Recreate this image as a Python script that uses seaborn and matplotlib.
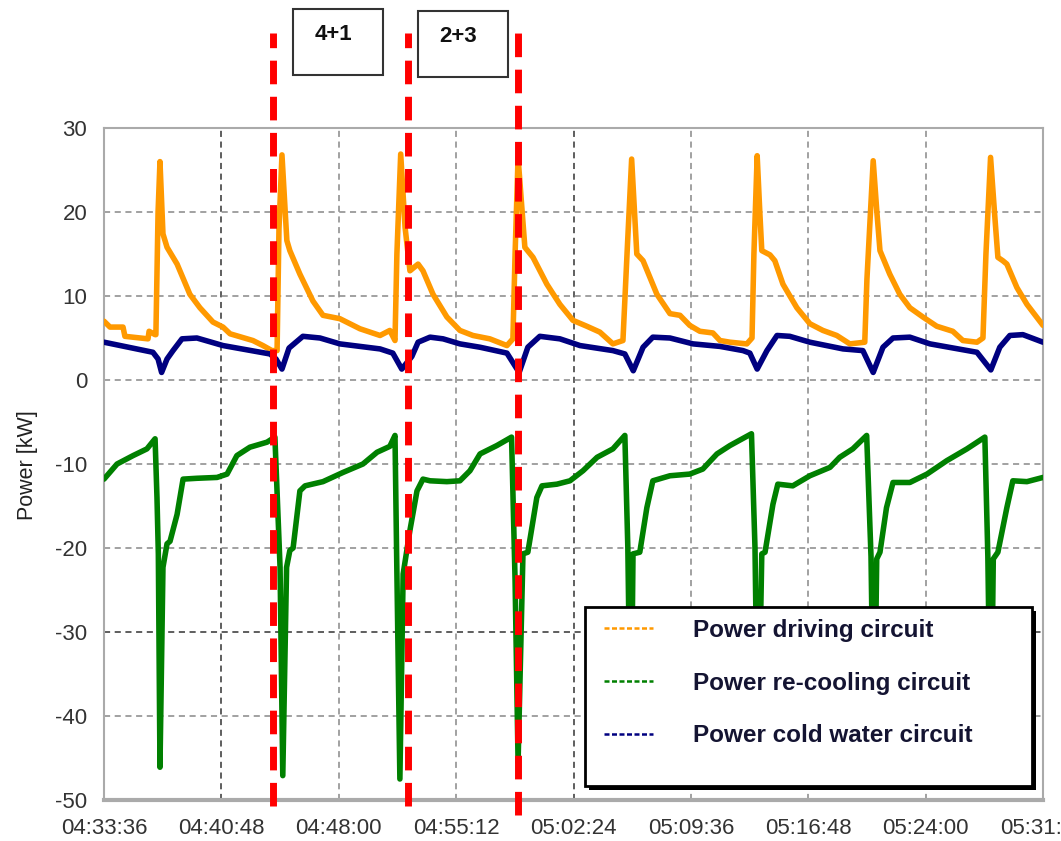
import pandas as pd
import numpy as np
import matplotlib
matplotlib.use("Agg")
from matplotlib import pyplot as plt
from matplotlib.lines import Line2D
from matplotlib.patches import Rectangle
import matplotlib.dates as mdates
import seaborn as sns

# time axis: seconds elapsed since 04:33:36
START = pd.Timestamp("2000-01-01 04:33:36")
SPAN_S = 3456
TICK_STEP_S = 432

# Power driving circuit (orange)
drive_t = [0, 22, 70, 77, 162, 166, 188, 191, 199, 206, 217, 232, 269, 316, 353, 401, 438, 464,
           548, 585, 618, 637, 644, 655, 673, 684, 721, 769, 806, 868, 905, 942, 1016, 1052,
           1071, 1078, 1092, 1108, 1126, 1156, 1174, 1211, 1262, 1310, 1358, 1420, 1483, 1505,
           1513, 1524, 1537, 1549, 1579, 1630, 1678, 1726, 1777, 1825, 1873, 1910, 1925, 1942,
           1961, 1984, 2035, 2083, 2120, 2156, 2193, 2241, 2267, 2304, 2366, 2385, 2392, 2404,
           2414, 2421, 2451, 2469, 2499, 2550, 2598, 2646, 2697, 2745, 2800, 2808, 2831, 2845,
           2856, 2892, 2929, 2966, 3014, 3065, 3124, 3161, 3213, 3235, 3246, 3263, 3279, 3290,
           3308, 3323, 3360, 3397, 3456]
drive_kw = [7.0, 6.3, 6.3, 5.2, 4.9, 5.8, 5.4, 5.4, 20.0, 26.0, 17.4, 15.8, 13.8, 10.2, 8.6, 6.9,
            6.3, 5.5, 4.7, 4.1, 3.5, 3.5, 18.0, 26.8, 16.6, 15.4, 12.6, 9.4, 7.7, 7.3, 6.7, 6.1,
            5.3, 5.9, 4.7, 15.0, 26.9, 18.2, 13.0, 13.8, 13.0, 10.2, 7.5, 5.9, 5.3, 4.9, 4.1,
            4.9, 15.0, 26.5, 20.9, 15.8, 14.6, 11.4, 9.0, 7.1, 6.4, 5.7, 4.3, 4.7, 15.0, 26.3,
            15.0, 14.2, 10.2, 7.9, 7.7, 6.5, 5.8, 5.6, 4.7, 4.5, 4.3, 5.0, 15.0, 26.7,
            19.8, 15.4, 14.9, 14.2, 11.4, 8.6, 6.7, 5.9, 5.3, 4.3, 4.5, 12.0, 26.1, 19.8,
            15.4, 12.6, 10.2, 8.6, 7.5, 6.4, 5.8, 4.7, 4.5, 5.0, 15.0, 26.5, 19.3, 14.6,
            14.2, 13.8, 11.0, 9.0, 6.5]

# Power re-cooling circuit (green)
recool_t = [0, 48, 107, 158, 188, 195, 200, 206, 217, 232, 243, 269, 291, 342, 416, 453, 489, 537,
            600, 629, 648, 658, 672, 684, 696, 721, 740, 806, 880, 953, 1005, 1052, 1071, 1077,
            1089, 1101, 1126, 1152, 1174, 1200, 1262, 1310, 1347, 1384, 1446, 1500, 1513, 1524,
            1542, 1560, 1593, 1612, 1667, 1715, 1763, 1815, 1873, 1917, 1928, 1939, 1947, 1972,
            1998, 2020, 2083, 2156, 2204, 2256, 2304, 2383, 2396, 2407, 2421, 2433, 2462, 2480,
            2535, 2598, 2672, 2708, 2756, 2807, 2823, 2834, 2844, 2856, 2880, 2904, 2966, 3029,
            3102, 3176, 3242, 3253, 3264, 3273, 3290, 3323, 3345, 3397, 3456]
recool_kw = [-11.8, -10.0, -9.0, -8.2, -7.0, -14.0, -20.7, -46.1, -22.3, -19.5, -19.2, -16.0,
             -11.8, -11.7, -11.6, -11.2, -9.0, -8.0, -7.4, -6.8, -22.3, -47.1, -22.3, -20.3,
             -20.0, -13.2, -12.6, -12.1, -11.0, -10.0, -8.6, -7.9, -6.6, -20.7, -47.5, -23.1,
             -17.9, -13.2, -11.8, -12.0, -12.1, -12.0, -10.8, -8.8, -7.8, -6.8, -23.9, -45.5,
             -20.7, -20.5, -14.0, -12.6, -12.4, -12.0, -10.8, -9.2, -8.2, -6.6, -20.0, -46.0,
             -20.7, -20.5, -15.2, -12.0, -11.4, -11.2, -10.6, -8.8, -7.8, -6.4, -20.0, -46.0,
             -20.7, -20.5, -14.8, -12.4, -12.6, -11.4, -10.4, -9.2, -8.2, -6.6, -21.0, -46.0,
             -21.3, -20.5, -15.2, -12.2, -12.2, -11.2, -9.6, -8.2, -6.8, -21.0, -46.0, -21.3,
             -20.5, -15.2, -12.0, -12.1, -11.6]

# Power cold water circuit (navy)
cold_t = [0, 180, 199, 212, 232, 254, 287, 342, 438, 611, 633, 655, 681, 732, 795, 868, 1016,
          1063, 1096, 1133, 1156, 1200, 1248, 1310, 1384, 1483, 1528, 1560, 1604, 1678, 1752,
          1873, 1917, 1948, 1984, 2020, 2083, 2168, 2267, 2352, 2377, 2404, 2440, 2477, 2524,
          2598, 2720, 2793, 2831, 2867, 2904, 2966, 3040, 3213, 3264, 3297, 3334, 3382, 3456]
cold_kw = [4.5, 3.3, 2.5, 0.9, 2.5, 3.5, 4.9, 5.0, 4.1, 3.1, 2.5, 1.3, 3.8, 5.2, 5.0, 4.3, 3.7,
           3.2, 1.3, 2.8, 4.5, 5.1, 4.9, 4.3, 3.9, 3.2, 0.9, 3.9, 5.2, 4.9, 4.1,
           3.5, 3.1, 1.1, 3.9, 5.1, 5.0, 4.3, 4.0, 3.5, 3.2, 1.3, 3.5, 5.3, 5.2,
           4.5, 3.7, 3.5, 0.9, 3.9, 5.0, 5.1, 4.3, 3.3, 1.2, 3.9, 5.3, 5.4, 4.5]

# switching events (red dashed lines) and their labels
event_t = [621, 1119, 1522]
box_labels = ["4+1", "2+3"]

labels = ["Power driving circuit", "Power re-cooling circuit", "Power cold water circuit"]
colors = ["#FF9900", "#008000", "#000080"]
y_ticks = [-50, -40, -30, -20, -10, 0, 10, 20, 30]


def to_time(secs):
    return START + pd.to_timedelta(np.array(secs), unit="s")


sns.set_style("white")
plt.rcParams["font.family"] = ["Liberation Sans", "DejaVu Sans"]
plt.rcParams["axes.unicode_minus"] = False

W, H = 1061, 841
fig = plt.figure(figsize=(W / 100, H / 100), dpi=100)
ax = fig.add_axes([104 / W, 1 - 800 / H, (1043 - 104) / W, (800 - 128) / H])

series = [(drive_t, drive_kw), (recool_t, recool_kw), (cold_t, cold_kw)]
for (t, kw), c in zip(series, colors):
    df = pd.DataFrame({"time": to_time(t), "kW": kw})
    sns.lineplot(data=df, x="time", y="kW", color=c, lw=4, ax=ax, sort=False,
                 estimator=None, zorder=3)

x_ticks = to_time(range(0, SPAN_S + 1, TICK_STEP_S))
ax.set_xlim(x_ticks[0], x_ticks[-1])
ax.set_ylim(-50, 30)
ax.set_xticks(x_ticks)
ax.set_yticks(y_ticks)
ax.xaxis.set_major_formatter(mdates.DateFormatter("%H:%M:%S"))
ax.set_xlabel("")
ax.set_ylabel("")

# dashed grid, a few lines darker as in the original
for i, xt in enumerate(x_ticks[1:-1], start=1):
    dark = i in (1, 4)
    ax.axvline(xt, color="#333333" if dark else "#888888", lw=1.1, ls=(0, (4, 3)), zorder=1)
for yt in y_ticks[1:-1]:
    dark = yt == -30
    ax.axhline(yt, color="#333333" if dark else "#888888", lw=1.1, ls=(0, (4, 3)), zorder=1)

for side in ["left", "right", "top"]:
    ax.spines[side].set_color("#aaaaaa")
    ax.spines[side].set_linewidth(1.5)
ax.spines["bottom"].set_color("#aaaaaa")
ax.spines["bottom"].set_linewidth(3)
ax.tick_params(axis="both", colors="#888888", labelcolor="#333333", labelsize=16,
               length=6, width=1.5, direction="out")
ax.tick_params(axis="x", pad=7)
ax.tick_params(axis="y", pad=6)

fig.text(28 / W, 1 - 465 / H, "Power [kW]", rotation=90, ha="center", va="center",
         fontsize=15.5, color="#222222")

# red event lines reaching above and below the plot area
ev_extent = [(-0.009, 1.141), (-0.009, 1.141), (-0.022, 1.149)]
for et, (y0, y1) in zip(to_time(event_t), ev_extent):
    ax.axvline(et, ymin=y0, ymax=y1, color="#FF0000", lw=5, ls=(0, (3.4, 1.8)),
               clip_on=False, zorder=6)

# labelled boxes above the chart
boxes = [(293, 9, 383, 75), (418, 11, 508, 77)]
for (x0, y0, x1, y1), lab in zip(boxes, box_labels):
    fig.add_artist(Rectangle((x0 / W, 1 - y1 / H), (x1 - x0) / W, (y1 - y0) / H,
                             transform=fig.transFigure, fill=False, ec="#333333", lw=1.5))
    fig.text((x0 + 40) / W, 1 - (y0 + 26) / H, lab, ha="center", va="center",
             fontsize=16, fontweight="bold", color="#111111")

# legend frame with black drop shadow
lx0, lx1, ly0, ly1 = 585, 1032, 607, 786
def ax_xy(px, py):
    return (px - 104) / 939, (800 - py) / 672
sx, sy = ax_xy(lx0 + 4, ly1 + 4)
ax.add_patch(Rectangle((sx, sy), (lx1 - lx0) / 939, (ly1 - ly0) / 672, transform=ax.transAxes,
                       fc="black", ec="black", lw=0, zorder=4))
fx, fy = ax_xy(lx0, ly1)
ax.add_patch(Rectangle((fx, fy), (lx1 - lx0) / 939, (ly1 - ly0) / 672, transform=ax.transAxes,
                       fc="white", ec="black", lw=2, zorder=4.5))

handles = [Line2D([0], [0], color=c, lw=1.8, ls=(0, (2, 1))) for c in colors]
leg = ax.legend(handles, labels, loc="upper left", bbox_to_anchor=ax_xy(604, 619),
                frameon=False, fontsize=17.5, handlelength=2.0, handletextpad=1.65,
                labelspacing=1.22, borderpad=0, borderaxespad=0)
for txt in leg.get_texts():
    txt.set_fontweight("bold")
    txt.set_color("#141432")
leg.set_zorder(5)

fig.savefig("out.png", dpi=100)
